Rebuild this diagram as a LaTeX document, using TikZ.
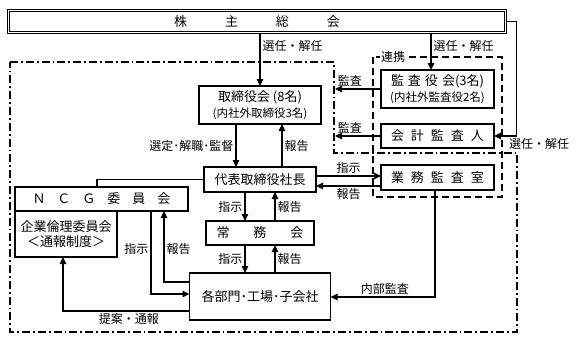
\documentclass[tikz,border=0pt]{standalone}
\usepackage{fontspec}
\setmainfont{Noto Sans CJK JP}
\usetikzlibrary{arrows.meta, positioning}
\newcommand{\bxfont}{\fontsize{13}{15.5}\selectfont}
\newcommand{\lbfont}{\fontsize{12}{14}\selectfont}
\newcommand{\smfont}{\fontsize{11.5}{13.5}\selectfont}

\begin{document}
\begin{tikzpicture}[
  x=1pt, y=-1pt,
  box/.style={draw, line width=1.9pt, outer sep=0pt, align=center,
              font=\bxfont, inner sep=1pt},
  topbox/.style={draw, double, line width=0.8pt, double distance=1.1pt,
                 outer sep=0pt, font=\bxfont},
  lbl/.style={font=\lbfont, inner sep=2pt},
  arr/.style={-{Triangle[length=7pt, width=6.5pt]}, line width=1.25pt},
  conn/.style={line width=1.25pt},
  dashdotline/.style={line width=2pt, dash pattern=on 8pt off 3pt on 1.8pt off 3pt},
  dashline/.style={line width=2pt, dash pattern=on 7pt off 4pt}
]
  \useasboundingbox (0,0) rectangle (576,343);

  % Shareholders
  \node[topbox, minimum width=497, minimum height=22] (share) at (257,21.5)
    {株\hspace{38pt}主\hspace{38pt}総\hspace{38pt}会};

  % Board / President / Executive / Departments
  \node[box, minimum width=122, minimum height=38] (board) at (260,105)
    {取締役会 (8名)\\[0pt]{\smfont (内社外取締役3名)}};
  \node[box, minimum width=112, minimum height=25, below=43pt of board] (pres) {代表取締役社長};
  \node[box, minimum width=108, minimum height=24, below=29pt of pres] (exec)
    {常\hspace{24pt}務\hspace{24pt}会};
  \node[box, minimum width=141, minimum height=47, below=28pt of exec] (dept) {各部門･工場･子会社};

  % Audit side
  \node[box, minimum width=113, minimum height=38] (audit) at (437.5,89)
    {監\hspace{4pt}査\hspace{4pt}役\hspace{4pt}会(3名)\\[0pt]{\smfont (内社外監査役2名)}};
  \node[box, minimum width=113, minimum height=24, below=16pt of audit] (acct)
    {会\hspace{7pt}計\hspace{7pt}監\hspace{7pt}査\hspace{7pt}人};
  \node[box, minimum width=113, minimum height=25, below=17pt of acct] (inaudit)
    {業\hspace{7pt}務\hspace{7pt}監\hspace{7pt}査\hspace{7pt}室};

  % Committees
  \node[box, minimum width=173, minimum height=24] (ncg) at (101.5,199)
    {Ｎ\hspace{12pt}Ｃ\hspace{12pt}Ｇ\hspace{12pt}委\hspace{12pt}員\hspace{12pt}会};
  \node[box, minimum width=102, minimum height=46, anchor=north west] (ethics) at (ncg.south west)
    {企業倫理委員会\\＜通報制度＞};

  % Frames
  \coordinate (ddA) at (334,62);
  \coordinate (ddB) at (517,153);
  \draw[dashdotline] (10,62) -- (ddA) -- (ddA |- ddB) -- (ddB) -- (517,332) -- (10,332) -- cycle;
  \draw[dashline] (373,57) rectangle (502,197);
  \node[lbl, fill=white, inner xsep=1pt] (link) at (393,57) {連携};

  % Arrows
  \draw[arr] (share.south -| board.north) -- (board.north)
    node[lbl, pos=0.25, right] {選任・解任};
  \draw[arr] ([xshift=-6.5pt]audit.north |- share.south) -- ([xshift=-6.5pt]audit.north)
    node[lbl, pos=0.35, right] {選任・解任};
  \draw[arr] (share.east) -- ++(11,0) |- (acct.east)
    node[lbl, pos=0.5, anchor=north west, xshift=-10pt] {選任・解任};
  \draw[arr, shorten >=1pt] (audit.west) -- (audit.west -| ddA)
    node[lbl, pos=0.66, above] {監査};
  \draw[arr, shorten >=1pt] (acct.west) -- (acct.west -| ddA)
    node[lbl, pos=0.66, above] {監査};
  \draw[arr] ([xshift=-24pt]board.south) -- ([xshift=-24pt]board.south |- pres.north)
    node[lbl, midway, left] {選定･解職･監督};
  \draw[arr] ([xshift=22pt]board.south |- pres.north) -- ([xshift=22pt]board.south)
    node[lbl, midway, right] {報告};
  \draw[arr] ([yshift=3.5pt]pres.east) -- ([yshift=3.5pt]pres.east -| inaudit.west)
    node[lbl, midway, above] {指示};
  \draw[arr] ([yshift=-6.5pt]pres.east -| inaudit.west) -- ([yshift=-6.5pt]pres.east)
    node[lbl, midway, below] {報告};
  \draw[arr] ([xshift=-15pt]pres.south) -- ([xshift=-15pt]exec.north)
    node[lbl, midway, left] {指示};
  \draw[arr] ([xshift=15pt]exec.north) -- ([xshift=15pt]pres.south)
    node[lbl, midway, right] {報告};
  \draw[arr] ([xshift=-15pt]exec.south) -- ([xshift=-15pt]dept.north)
    node[lbl, midway, left] {指示};
  \draw[arr] ([xshift=15pt]dept.north) -- ([xshift=15pt]exec.south)
    node[lbl, midway, right] {報告};
  \draw[arr] ([xshift=-2.5pt]inaudit.south) |- ([yshift=-0.5pt]dept.east)
    node[lbl, pos=0.74, above] {内部監査};
  \draw[conn] (pres.west) -| ([xshift=-4.5pt]ncg.north);
  \draw[arr] ([xshift=49.5pt]ncg.south) |- ([yshift=2.5pt]dept.west)
    node[lbl, pos=0.23, left] {指示};
  \draw[arr] ([yshift=14.5pt]dept.west) -| ([xshift=62.5pt]ncg.south)
    node[lbl, pos=0.73, right] {報告};
  \draw[arr] ([yshift=-14.5pt]dept.west) -| ([xshift=-3pt]ethics.south)
    node[lbl, pos=0.24, below] {提案・通報};
\end{tikzpicture}
\end{document}
